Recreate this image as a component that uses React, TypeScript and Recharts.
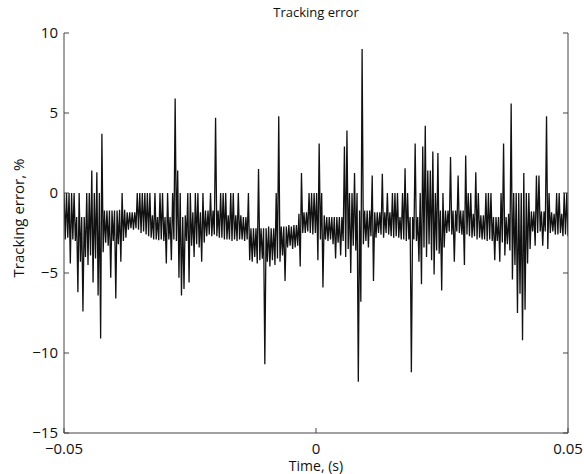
import { LineChart, Line, XAxis, YAxis } from "recharts";

// top of each vertical stroke (one per sample pair)
const hi = [
  0, 0, 0, 0, 0, -1.5, 0, -1.5, -1.5, 0, 0, 1.4, 0, 1.3, 0, 3.7, -1.1, -1.1, -1.1, -1.1,
  -1.1, -1.1, -1.05, 0, -1.05, -1.2, -1.2, -1.2, -1.2, 0, 0, 0, 0, 0, 0, -1.4, 0, -1.5, 0, 0,
  -1.5, 0, -1.5, 0, 5.9, 1.4, 0, -1.5, -1.4, 0, 0, -1.2, 0, 0, -1.2, 0, -1.1, -1.1, 0, -1.1,
  4.7, -1.1, 0, 0, 0, -1.4, 0, 0, -1.4, 0, -1.4, -1.5, -1.5, 0, -2.2, -2.2, -2.2, 1.5, -2.2, -2.2,
  -2.2, -2.1, -2.2, -2.2, 0, 4.8, -2.1, -2.1, -2.1, -2.0, -2.1, -2.0, -2.0, -1.3, 1.25, -1.2, -1.2, 0, 0, 0,
  0, 3.1, 0, -1.4, -1.5, -1.5, -1.5, -1.5, -1.5, -1.5, -1.5, 2.9, 3.9, 0, 0, 1.25, 0, -1.1, 9.0, -1.1,
  -1.1, -1.1, 1.1, -1.2, -1.2, -1.2, 1.2, -1.2, 0, -1.2, 0, 0, 0, -1.5, 0, 1.55, 0, -1.5, -1.5, 3.1,
  -1.5, 0, 2.9, 4.2, 1.4, 1.4, 2.6, 0, 2.5, -1.1, 0, -1.1, -1.1, 2.25, -1.1, -1.1, 1.1, -1.1, -1.1, 2.35,
  0, 0, -1.3, 1.3, 0, -1.4, -1.4, 0, 0, 0, -1.5, -1.5, -1.5, 0, 3.1, -1.5, -1.3, 5.6, 0, 0,
  0, 0, 1.25, 0, 0, -1.15, -1.15, 1.1, 1.1, -1.15, -1.15, 4.8, 0, -1.2, -1.3, 0, 0, -1.3, 0, 0,
];

// bottom of each vertical stroke
const lo = [
  -2.9, -2.8, -4.4, -2.9, -3.0, -6.2, -4.3, -7.4, -4.0, -4.5, -3.9, -5.6, -4.1, -6.4, -9.1, -3.7, -3.1, -3.3, -5.3, -3.0,
  -6.6, -3.2, -4.3, -3.0, -2.8, -2.3, -2.2, -2.3, -2.2, -2.3, -2.5, -2.4, -2.6, -2.7, -2.8, -2.9, -2.9, -2.95, -2.9, -3.0,
  -4.4, -2.9, -4.2, -2.9, -3.0, -5.3, -6.4, -6.0, -3.0, -5.6, -3.3, -4.0, -3.2, -3.4, -4.3, -3.1, -2.7, -2.6, -2.7, -2.6,
  -2.7, -2.8, -2.8, -2.9, -2.9, -2.9, -3.0, -2.9, -3.0, -2.9, -2.9, -3.0, -2.9, -4.2, -4.3, -4.0, -4.4, -4.2, -4.1, -10.7,
  -4.3, -4.6, -4.2, -4.5, -4.1, -4.3, -3.9, -5.5, -3.4, -3.3, -3.5, -3.4, -3.3, -4.6, -2.5, -2.5, -2.4, -2.5, -2.6, -2.5,
  -4.2, -2.9, -5.9, -2.9, -3.0, -2.9, -3.2, -4.1, -3.1, -3.9, -3.0, -4.0, -3.5, -5.0, -3.3, -3.6, -11.8, -6.8, -3.2, -3.0,
  -3.4, -2.7, -5.5, -2.8, -2.5, -2.6, -2.8, -2.5, -2.6, -2.7, -2.8, -2.7, -2.8, -2.9, -2.9, -3.0, -2.9, -11.2, -2.9, -3.0,
  -4.3, -5.7, -3.4, -4.0, -3.2, -4.2, -5.1, -3.6, -3.8, -6.1, -3.4, -2.5, -2.4, -2.6, -4.3, -2.4, -2.5, -2.6, -4.5, -2.6,
  -2.7, -2.8, -2.7, -2.9, -2.8, -2.9, -2.9, -3.0, -2.9, -3.0, -4.2, -3.0, -4.3, -3.1, -3.9, -3.2, -3.6, -5.4, -4.5, -7.5,
  -6.3, -9.2, -7.3, -4.4, -3.5, -2.4, -3.3, -2.5, -2.4, -3.3, -2.4, -3.5, -2.5, -2.4, -2.6, -2.6, -2.5, -2.7, -2.6, -2.7,
];

const xTicks = [-0.05, 0, 0.05];
const yTicks = [-15, -10, -5, 0, 5, 10];

const T0 = -0.05;
const SPAN = 0.1;
const total = hi.length * 2;
const data = hi.flatMap((h, i) => [
  { t: T0 + (SPAN * (2 * i)) / (total - 1), v: h },
  { t: T0 + (SPAN * (2 * i + 1)) / (total - 1), v: lo[i] },
]);

const font = "'Open Sans', 'Liberation Sans', sans-serif";
const axisColor = "#444";
const fmt = (v: number) => String(v).replace("-", "\u2212");

const LeftTick = (p: any) => (
  <g>
    <line x1={p.x + 6} x2={p.x + 11} y1={p.y} y2={p.y} stroke={axisColor} />
    <text x={p.x} y={p.y} dy="0.3em" textAnchor="end" fontSize={15} fontFamily={font} fill="#111">
      {fmt(p.payload.value)}
    </text>
  </g>
);

const RightTick = (p: any) => (
  <line x1={p.x - 5} x2={p.x} y1={p.y} y2={p.y} stroke={axisColor} />
);

const BottomTick = (p: any) => (
  <g>
    <line x1={p.x} x2={p.x} y1={p.y - 10} y2={p.y - 15} stroke={axisColor} />
    <text x={p.x} y={p.y} dy="0.71em" textAnchor="middle" fontSize={15} fontFamily={font} fill="#111">
      {fmt(p.payload.value)}
    </text>
  </g>
);

const TopTick = (p: any) => (
  <line x1={p.x} x2={p.x} y1={p.y} y2={p.y + 5} stroke={axisColor} />
);

export default function App() {
  return (
    <div style={{ position: "absolute", left: 0, top: 0, width: 584, height: 474, background: "#fff", fontFamily: font }}>
      <div style={{ position: "absolute", top: 3, left: 64, width: 504, textAlign: "center", fontSize: 13, color: "#111" }}>
        Tracking error
      </div>
      <div
        style={{
          position: "absolute",
          left: 18,
          top: 218,
          transform: "translate(-50%, -50%) rotate(-90deg)",
          whiteSpace: "nowrap",
          fontSize: 15,
          color: "#111",
        }}
      >
        Tracking error, %
      </div>
      <div style={{ position: "absolute", top: 456, left: 64, width: 504, textAlign: "center", fontSize: 14, color: "#111" }}>
        Time, (s)
      </div>
      <LineChart width={584} height={474} data={data} margin={{ top: 33, right: 0, bottom: 0, left: 0 }}>
        <XAxis
          dataKey="t"
          type="number"
          domain={[-0.05, 0.05]}
          ticks={xTicks}
          allowDataOverflow
          height={41}
          tickSize={0}
          tickMargin={10}
          tick={BottomTick}
          axisLine={{ stroke: axisColor }}
        />
        <XAxis
          xAxisId="top"
          dataKey="t"
          type="number"
          orientation="top"
          domain={[-0.05, 0.05]}
          ticks={xTicks}
          allowDataOverflow
          height={0}
          tickSize={0}
          tickMargin={0}
          tick={TopTick}
          axisLine={{ stroke: axisColor }}
        />
        <YAxis
          type="number"
          domain={[-15, 10]}
          ticks={yTicks}
          allowDataOverflow
          width={64}
          tickSize={0}
          tickMargin={6}
          tick={LeftTick}
          axisLine={{ stroke: axisColor }}
        />
        <YAxis
          yAxisId="right"
          type="number"
          orientation="right"
          domain={[-15, 10]}
          ticks={yTicks}
          allowDataOverflow
          width={16}
          tickSize={0}
          tickMargin={0}
          tick={RightTick}
          axisLine={{ stroke: axisColor }}
        />
        <Line
          type="linear"
          dataKey="v"
          stroke="#111"
          strokeWidth={1.3}
          dot={false}
          isAnimationActive={false}
        />
      </LineChart>
    </div>
  );
}
